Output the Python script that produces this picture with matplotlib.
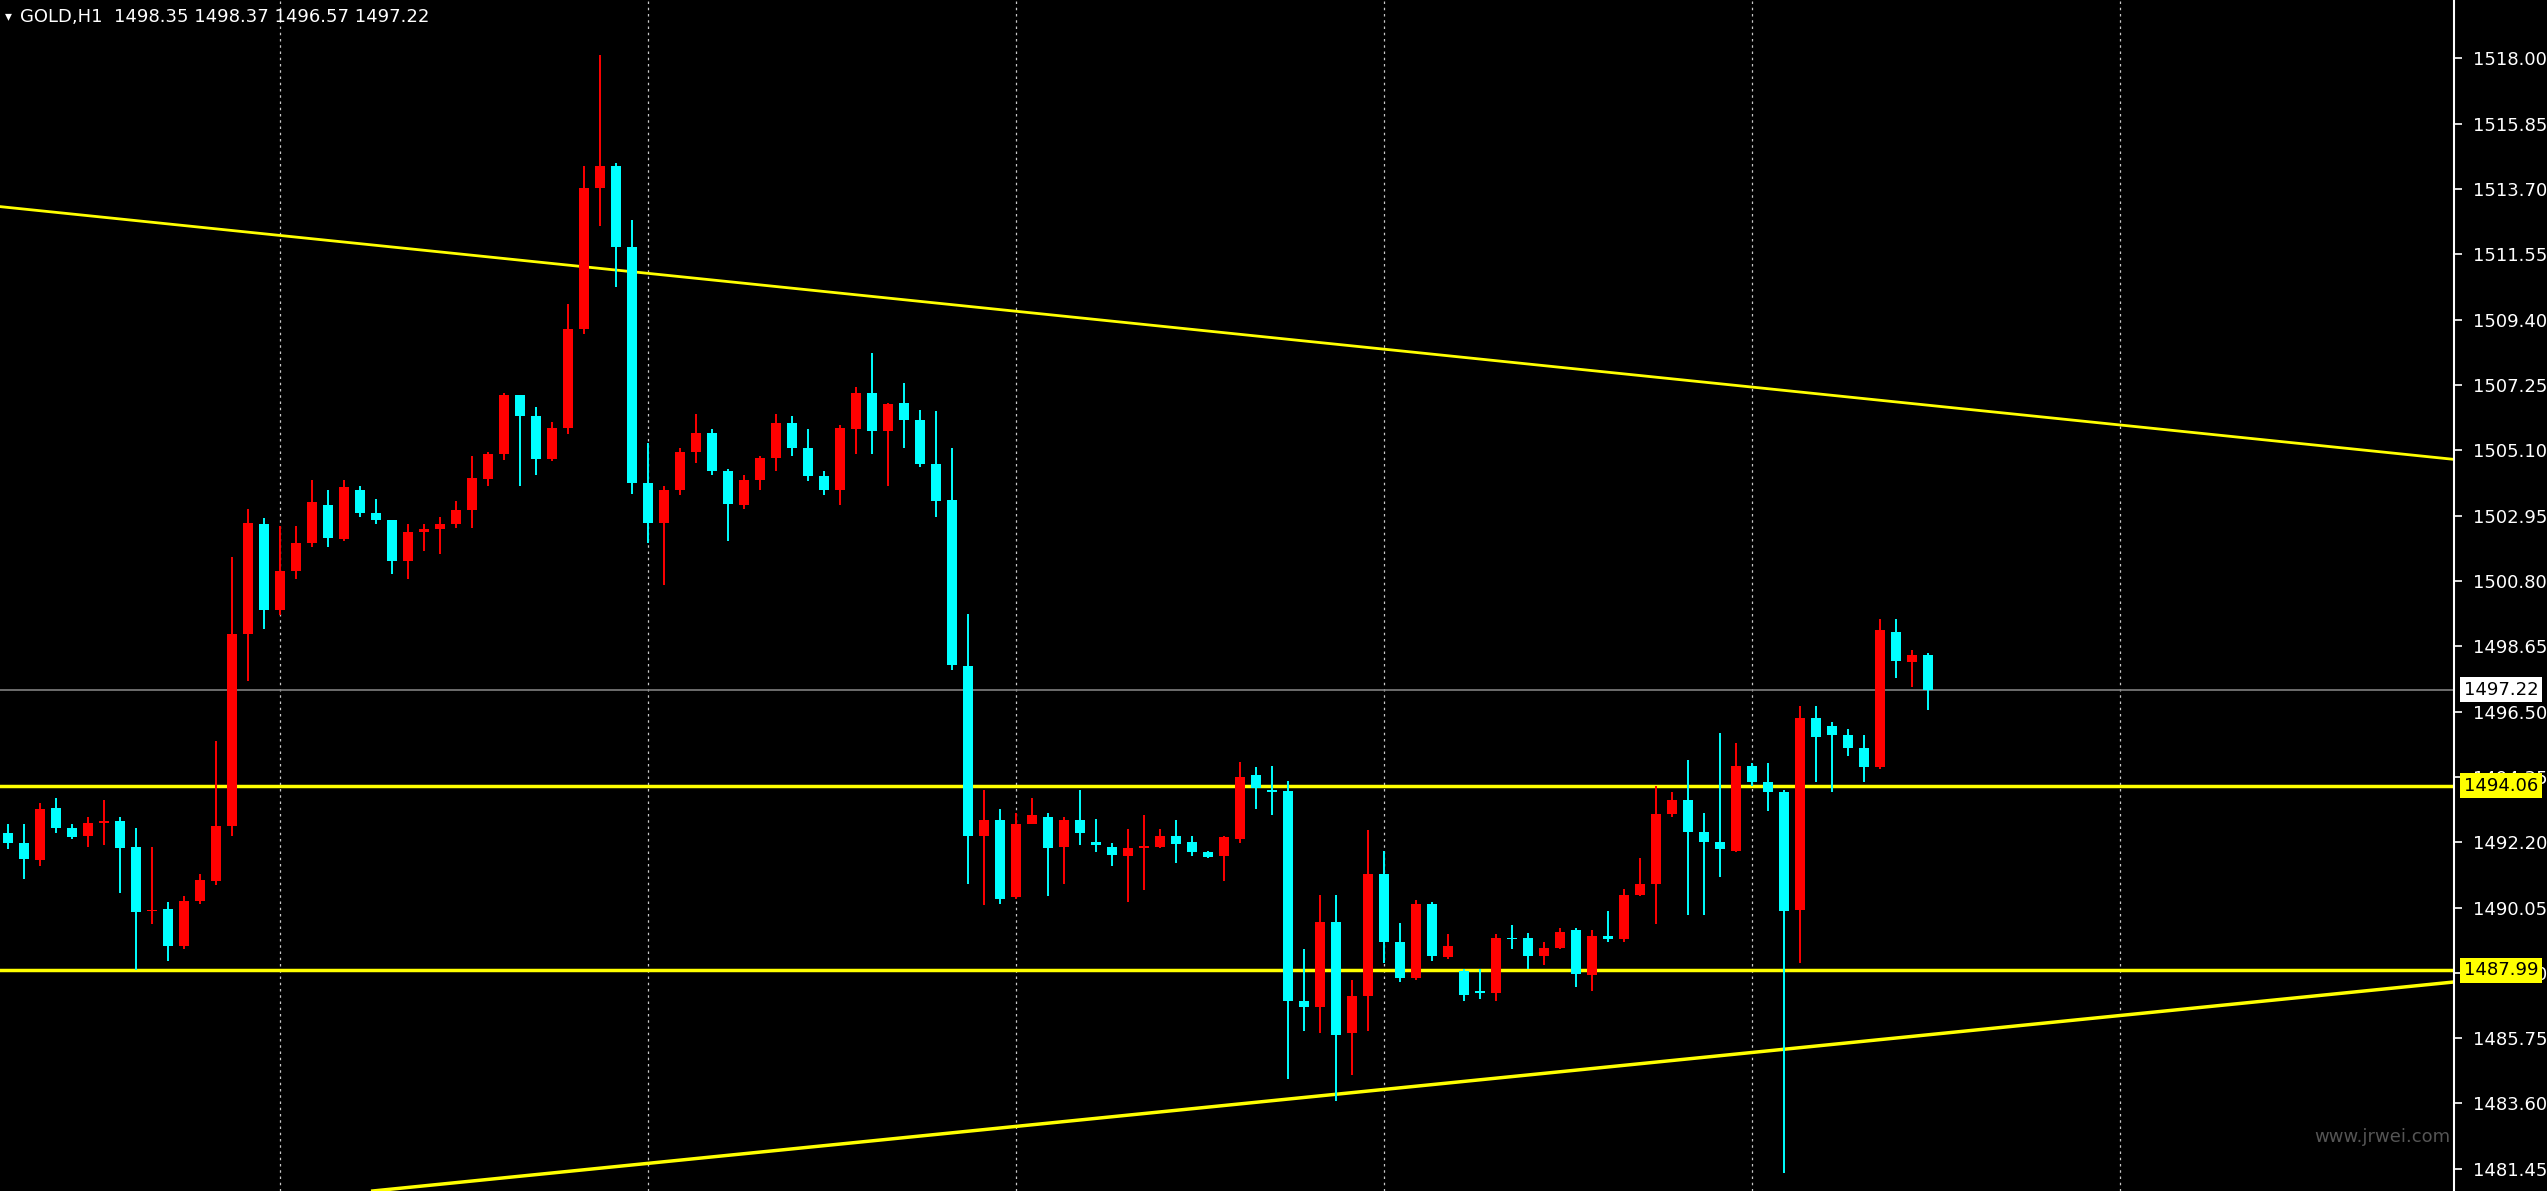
import matplotlib
matplotlib.use("Agg")
import matplotlib.pyplot as plt
import numpy as np

# zoom-read pixel rows converted to price: p = 1519.92 - 0.025 * row
_rows = [
    (1097, 1110, 1085, 1118), (1110, 1131, 1085, 1157), (1133, 1065, 1057, 1140), (1063, 1090, 1050, 1097),
    (1090, 1102, 1085, 1105), (1101, 1083, 1075, 1115), (1083, 1081, 1053, 1112), (1081, 1117, 1075, 1175),
    (1115, 1201, 1090, 1277), (1200, 1199, 1115, 1217), (1197, 1245, 1188, 1265), (1245, 1186, 1180, 1250),
    (1186, 1159, 1150, 1190), (1160, 1087, 975, 1165), (1088, 835, 733, 1100), (835, 689, 670, 897),
    (690, 803, 682, 828), (803, 752, 692, 810), (752, 715, 692, 762), (715, 661, 632, 720),
    (665, 708, 645, 720), (710, 641, 632, 712), (645, 676, 640, 680), (676, 685, 657, 690),
    (685, 738, 685, 755), (738, 700, 690, 762), (700, 697, 690, 725), (697, 690, 680, 730),
    (690, 672, 660, 695), (672, 629, 600, 695), (630, 598, 595, 640), (598, 520, 517, 606),
    (520, 547, 520, 640), (547, 605, 535, 625), (605, 563, 555, 607), (563, 433, 400, 572),
    (433, 248, 218, 440), (248, 218, 73, 298), (218, 325, 215, 378), (325, 636, 290, 650),
    (636, 688, 583, 715), (688, 645, 640, 770), (645, 595, 590, 652), (595, 570, 545, 610),
    (570, 620, 565, 625), (620, 663, 618, 712), (665, 632, 625, 670), (632, 603, 600, 645),
    (603, 557, 545, 620), (557, 590, 548, 600), (590, 627, 565, 633), (627, 645, 620, 652),
    (645, 563, 560, 665), (565, 517, 510, 598), (517, 568, 465, 598), (568, 532, 530, 640),
    (531, 553, 505, 590), (553, 611, 540, 615), (611, 660, 541, 680), (658, 875, 590, 882),
    (877, 1101, 808, 1163), (1100, 1080, 1040, 1192), (1080, 1183, 1065, 1190), (1181, 1085, 1070, 1183),
    (1085, 1073, 1050, 1085), (1075, 1117, 1070, 1180), (1115, 1080, 1075, 1163), (1080, 1097, 1040, 1112),
    (1108, 1113, 1078, 1122), (1115, 1126, 1110, 1140), (1127, 1117, 1092, 1188), (1116, 1115, 1073, 1172),
    (1115, 1100, 1092, 1117), (1100, 1111, 1080, 1137), (1108, 1122, 1100, 1127), (1122, 1128, 1120, 1130),
    (1127, 1102, 1100, 1160), (1105, 1023, 1003, 1110), (1020, 1037, 1010, 1065), (1040, 1043, 1008, 1073),
    (1042, 1318, 1028, 1420), (1318, 1326, 1250, 1358), (1326, 1214, 1178, 1360), (1214, 1362, 1178, 1450),
    (1360, 1311, 1290, 1415), (1311, 1150, 1093, 1358), (1150, 1240, 1120, 1268), (1240, 1288, 1215, 1293),
    (1288, 1190, 1185, 1290), (1190, 1258, 1188, 1265), (1260, 1245, 1230, 1262), (1278, 1310, 1275, 1318),
    (1305, 1307, 1275, 1315), (1307, 1235, 1230, 1318), (1235, 1237, 1218, 1250), (1235, 1258, 1228, 1275),
    (1258, 1248, 1240, 1270), (1248, 1227, 1222, 1250), (1225, 1282, 1222, 1300), (1283, 1232, 1225, 1305),
    (1232, 1236, 1200, 1240), (1237, 1178, 1170, 1240), (1178, 1163, 1130, 1180), (1163, 1072, 1035, 1217),
    (1072, 1053, 1043, 1075), (1053, 1095, 1000, 1205), (1095, 1108, 1070, 1205), (1108, 1118, 965, 1155),
    (1120, 1008, 978, 1122), (1008, 1030, 1005, 1035), (1030, 1043, 1005, 1068), (1043, 1200, 1040, 1545),
    (1198, 945, 930, 1268), (945, 970, 930, 1030), (955, 968, 950, 1043), (968, 985, 960, 995),
    (985, 1010, 968, 1030), (1010, 830, 815, 1012), (832, 870, 815, 893), (872, 862, 855, 905),
    (862, 908, 860, 935),
]
_px = np.array(_rows, dtype=float)
prices = np.round(1519.92 - 0.025 * _px, 2)
opens, closes, highs, lows = prices.T

y_ticks = [1518.00 - 2.15 * k for k in range(18)]
level_hi = 1494.06
level_lo = 1487.99
last_price = 1497.22
upper_trend = ((-0.5, 1513.12), (152.9, 1504.80))
lower_trend = ((22.8, 1480.72), (152.9, 1487.60))
grid_idx = [17, 40, 63, 86, 109, 132]

UP = "#ff0000"
DOWN = "#00ffff"

fig = plt.figure(figsize=(25.47, 11.91), dpi=100, facecolor="black")
ax = fig.add_axes([0, 0, 2454 / 2547, 1])
ax.set_facecolor("black")
ax.set_xlim(-0.5, 152.9)
ax.set_ylim(1480.72, 1519.92)

for gx in grid_idx:
    ax.axvline(gx, color="#c8c8c8", lw=0.9, ls=(0, (2, 3)), zorder=1)

ax.axhline(last_price, color="#808080", lw=1.2, zorder=2)
ax.axhline(level_hi, color="#ffff00", lw=2.5, zorder=2)
ax.axhline(level_lo, color="#ffff00", lw=2.5, zorder=2)
for (x0, y0), (x1, y1) in (upper_trend, lower_trend):
    ax.plot([x0, x1], [y0, y1], color="#ffff00", lw=2 if y0 > 1500 else 2.5, zorder=2)

idx = np.arange(len(opens))
colors = [UP if c > o else DOWN for o, c in zip(opens, closes)]
ax.vlines(idx, lows, highs, colors=colors, lw=1.4, zorder=3)
bottoms = np.minimum(opens, closes)
heights = np.maximum(np.abs(closes - opens), 0.06)
ax.bar(idx, heights, bottom=bottoms, width=0.62, color=colors, zorder=4)

ax.set_xticks([])
ax.yaxis.tick_right()
ax.set_yticks(y_ticks)
# 1487.85 sits fully under the yellow level box in the reference
ax.set_yticklabels(["" if abs(t - 1487.85) < 0.01 else f"{t:.2f}" for t in y_ticks])
ax.tick_params(axis="y", colors="white", labelsize=13, length=6, width=1.2, pad=8)
for side in ("top", "bottom", "left"):
    ax.spines[side].set_visible(False)
ax.spines["right"].set_color("white")
ax.spines["right"].set_linewidth(1.5)

for val, fc in ((last_price, "white"), (level_hi, "#ffff00"), (level_lo, "#ffff00")):
    ax.text(1.004, val, f"{val:.2f}", transform=ax.get_yaxis_transform(), va="center", ha="left",
            fontsize=13, color="black", zorder=10, clip_on=False,
            bbox=dict(boxstyle="square,pad=0.2", fc=fc, ec="none"))

fig.text(0.002, 0.992, "\u25BE", color="white", fontsize=10, va="top")
fig.text(0.008, 0.993, "GOLD,H1  1498.35 1498.37 1496.57 1497.22", color="white", fontsize=13, va="top")
fig.text(0.962, 0.045, "www.jrwei.com", color="#555555", fontsize=13, ha="right", va="center")

fig.savefig("out.png", dpi=100, facecolor="black")
